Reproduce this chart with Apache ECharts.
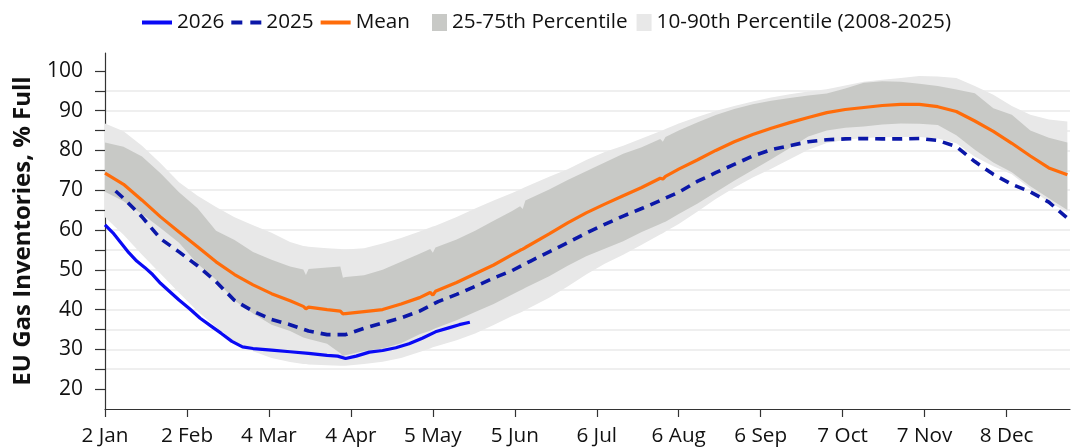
<!DOCTYPE html>
<html>
<head>
<meta charset="utf-8">
<script src="https://cdn.jsdelivr.net/npm/echarts@6/dist/echarts.min.js"></script>
<style>
  html, body { margin: 0; padding: 0; background: #fff; }
  #chart { width: 1072px; height: 447px; }
</style>
</head>
<body>
<div id="chart"></div>
<script>
// x = days since 2 Jan
var tickLabels = ["2 Jan", "2 Feb", "4 Mar", "4 Apr", "5 May", "5 Jun", "6 Jul", "6 Aug", "6 Sep", "7 Oct", "7 Nov", "8 Dec"];

var days = [0, 7, 14, 21, 28, 35, 42, 49, 56, 63, 70, 75, 76, 77, 84, 89, 90, 91, 98, 105, 112, 119, 123, 124, 125, 133, 140, 147, 154, 157, 158, 159, 168, 175, 182, 189, 196, 203, 210, 211, 212, 217, 224, 231, 238, 245, 252, 259, 266, 273, 280, 287, 294, 301, 308, 315, 322, 329, 336, 343, 350, 357, 364];

var mean = [74.3, 71.5, 67.5, 63.3, 59.5, 55.8, 52.0, 48.8, 46.2, 44.0, 42.2, 40.8, 40.2, 40.6, 40.0, 39.6, 38.9, 39.0, 39.5, 40.0, 41.4, 43.0, 44.3, 43.6, 44.6, 46.8, 49.0, 51.2, 53.8, 54.9, 55.2, 55.6, 59.0, 61.8, 64.3, 66.5, 68.6, 70.7, 73.0, 72.8, 73.5, 75.3, 77.6, 80.0, 82.2, 84.0, 85.6, 87.0, 88.3, 89.5, 90.3, 90.8, 91.3, 91.6, 91.6, 91.0, 89.8, 87.4, 84.8, 81.8, 78.6, 75.6, 73.9];

var p10 = [63.2, 58.8, 53.8, 49.0, 44.2, 39.6, 35.6, 32.0, 29.5, 27.8, 26.8, 26.3, 26.3, 26.2, 26.0, 25.9, 25.9, 25.9, 26.3, 26.9, 27.8, 29.3, 30.2, 30.5, 30.7, 32.3, 34.0, 36.1, 38.4, 39.2, 39.5, 39.9, 43.0, 45.8, 48.8, 51.5, 53.8, 56.3, 58.9, 59.2, 59.6, 61.5, 64.6, 67.8, 70.6, 73.2, 75.4, 77.8, 80.2, 81.9, 82.7, 83.1, 83.3, 83.4, 83.4, 83.0, 81.8, 78.4, 76.0, 74.0, 70.4, 67.0, 64.5];

var p25 = [69.6, 67.2, 64.0, 60.5, 56.8, 51.5, 47.5, 42.3, 39.0, 36.2, 34.6, 33.0, 32.8, 32.6, 31.4, 29.0, 28.3, 28.5, 29.6, 30.2, 31.5, 33.8, 34.7, 35.0, 35.3, 37.3, 39.4, 41.4, 43.8, 44.8, 45.1, 45.5, 48.4, 51.0, 53.4, 55.3, 57.2, 59.5, 61.5, 61.8, 62.1, 64.0, 66.6, 69.5, 72.4, 75.1, 77.8, 80.6, 83.5, 85.0, 85.7, 86.0, 86.5, 86.8, 86.7, 86.4, 83.8, 80.2, 77.0, 74.5, 71.0, 68.0, 65.0];

var p75 = [82.0, 80.9, 78.5, 74.3, 69.5, 65.5, 59.8, 57.5, 54.5, 52.5, 50.8, 50.1, 48.7, 50.2, 50.6, 50.8, 48.0, 48.2, 48.6, 50.0, 52.0, 54.0, 55.2, 54.3, 55.6, 57.6, 59.8, 62.3, 64.8, 66.0, 65.3, 67.4, 70.2, 72.6, 74.8, 77.0, 79.2, 80.8, 82.9, 82.2, 83.4, 85.0, 87.0, 88.9, 90.4, 91.6, 92.5, 93.2, 93.8, 94.3, 95.6, 97.0, 97.4, 97.3, 96.8, 96.2, 95.3, 94.4, 90.6, 89.0, 85.0, 83.2, 82.0];

var p90 = [86.8, 84.8, 81.2, 76.8, 72.0, 68.6, 65.8, 63.2, 61.2, 59.3, 57.0, 56.0, 55.9, 55.8, 55.4, 55.2, 55.1, 55.1, 55.4, 56.6, 58.0, 59.6, 60.6, 60.9, 61.1, 63.3, 65.4, 67.4, 69.3, 70.2, 70.5, 70.8, 73.4, 75.3, 77.6, 79.6, 81.2, 83.0, 84.8, 85.1, 85.4, 86.8, 88.4, 89.9, 91.2, 92.3, 93.3, 94.1, 94.8, 95.4, 96.3, 97.3, 97.8, 98.2, 98.7, 98.6, 98.2, 96.2, 94.0, 91.2, 89.0, 87.8, 87.3];

var days2025 = [4, 7, 14, 21, 28, 35, 42, 49, 56, 63, 70, 77, 84, 91, 98, 105, 112, 119, 126, 133, 140, 147, 154, 161, 168, 175, 182, 189, 196, 203, 210, 217, 224, 231, 238, 245, 252, 259, 266, 273, 280, 287, 294, 301, 308, 315, 322, 329, 336, 343, 350, 357, 364];
var y2025 = [69.8, 68.0, 63.3, 57.8, 54.5, 51.0, 47.0, 42.3, 39.6, 37.5, 36.2, 34.6, 33.7, 33.7, 35.3, 36.6, 37.9, 39.6, 42.0, 43.8, 45.8, 47.9, 49.8, 52.2, 54.5, 56.8, 59.2, 61.4, 63.5, 65.4, 67.4, 69.5, 72.2, 74.4, 76.5, 78.6, 80.2, 81.2, 82.2, 82.7, 82.9, 83.0, 82.9, 82.9, 83.0, 82.5, 81.0, 77.2, 74.0, 71.5, 69.6, 67.0, 63.0];

var days2026 = [0, 3, 6, 9, 12, 15, 18, 21, 24, 28, 32, 36, 40, 44, 48, 52, 56, 63, 70, 77, 84, 88, 91, 95, 100, 105, 110, 115, 120, 125, 130, 134, 138];
var y2026 = [61.3, 59.3, 56.8, 54.3, 52.2, 50.6, 48.8, 46.6, 44.8, 42.4, 40.2, 37.8, 35.9, 34.0, 32.0, 30.6, 30.2, 29.8, 29.4, 29.0, 28.5, 28.3, 27.7, 28.3, 29.3, 29.7, 30.4, 31.4, 32.8, 34.4, 35.4, 36.2, 36.8];

var yTicks = [20, 25, 30, 35, 40, 45, 50, 55, 60, 65, 70, 75, 80, 85, 90, 95, 100];
var yLabels = [20, 30, 40, 50, 60, 70, 80, 90, 100];

var FONT = "Open Sans";
var LIGHT = "#e8e8e8";
var DARK = "#c8c9c6";
var tickDays = tickLabels.map(function (_, i) { return i * 31; });

function zip(xs, ys) {
  return xs.map(function (x, i) { return [x, ys[i]]; });
}

// draws one filled band polygon between lo and hi through the grid's scales
function bandSeries(name, lo, hi, color) {
  return {
    name: name,
    type: "custom",
    color: color,
    itemStyle: { color: color },
    silent: true,
    encode: { x: 0, y: [1, 2] },
    data: days.map(function (d, i) { return [d, lo[i], hi[i]]; }),
    renderItem: function (params, api) {
      if (params.dataIndex !== 0) return null;
      var pts = [], i;
      for (i = 0; i < days.length; i++) pts.push(api.coord([days[i], hi[i]]));
      for (i = days.length - 1; i >= 0; i--) pts.push(api.coord([days[i], lo[i]]));
      return { type: "polygon", shape: { points: pts }, style: { fill: color } };
    },
  };
}

var chart = echarts.init(document.getElementById("chart"));
var option = {
  animation: false,
  textStyle: { fontFamily: FONT },
  legend: [
    {
      left: 137,
      top: 7,
      itemWidth: 30,
      itemHeight: 17,
      itemGap: 7,
      textStyle: { fontSize: 20.7, color: "#111", fontFamily: FONT },
      data: [
        { name: "2026", icon: "path://M0,0H30V4H0Z" },
        { name: "2025", icon: "path://M0,0H11V4H0Z M19,0H30V4H19Z" },
        { name: "Mean", icon: "path://M0,0H30V4H0Z" },
      ],
    },
    {
      left: 427,
      top: 7,
      itemWidth: 15,
      itemHeight: 17,
      itemGap: 9,
      textStyle: { fontSize: 20.7, color: "#111", fontFamily: FONT },
      data: [
        { name: "25-75th Percentile", icon: "rect", itemStyle: { color: DARK } },
        { name: "10-90th Percentile (2008-2025)", icon: "rect", itemStyle: { color: LIGHT } },
      ],
    },
  ],
  grid: { left: 105, right: 2, top: 53, bottom: 38 },
  xAxis: {
    type: "value",
    min: 0,
    max: 365,
    axisLine: { lineStyle: { color: "#333", width: 1.2 } },
    axisTick: { length: 8, customValues: tickDays, lineStyle: { color: "#333", width: 1.2 } },
    axisLabel: {
      customValues: tickDays,
      margin: 17,
      fontSize: 20.7,
      color: "#111",
      formatter: function (v) { return tickLabels[Math.round(v / 31)]; },
    },
    splitLine: { show: false },
  },
  yAxis: {
    type: "value",
    min: 15,
    max: 104.5,
    interval: 5,
    name: "EU Gas Inventories, % Full",
    nameLocation: "middle",
    nameGap: 70,
    nameTextStyle: { fontSize: 24, fontWeight: "bold", color: "#111", fontFamily: FONT },
    axisLine: { show: true, lineStyle: { color: "#333", width: 1.2 } },
    axisTick: { show: true, length: 10, customValues: yTicks, lineStyle: { color: "#333", width: 1.2 } },
    axisLabel: { customValues: yLabels, margin: 22, fontSize: 21, color: "#111" },
    splitLine: { show: true, showMinLine: false, showMaxLine: false, lineStyle: { color: "#efefef", width: 2 } },
  },
  series: [
    bandSeries("10-90th Percentile (2008-2025)", p10, p90, LIGHT),
    bandSeries("25-75th Percentile", p25, p75, DARK),
    {
      name: "Mean",
      type: "line",
      symbol: "none",
      color: "#ff6c0a",
      lineStyle: { width: 3.2, color: "#ff6c0a" },
      data: zip(days, mean),
    },
    {
      name: "2025",
      type: "line",
      symbol: "none",
      color: "#0b17a8",
      lineStyle: { width: 3.6, color: "#0b17a8", type: [10, 7] },
      data: zip(days2025, y2025),
    },
    {
      name: "2026",
      type: "line",
      symbol: "none",
      color: "#0a0af5",
      lineStyle: { width: 3.2, color: "#0a0af5" },
      data: zip(days2026, y2026),
    },
  ],
};
chart.setOption(option);
</script>
</body>
</html>
